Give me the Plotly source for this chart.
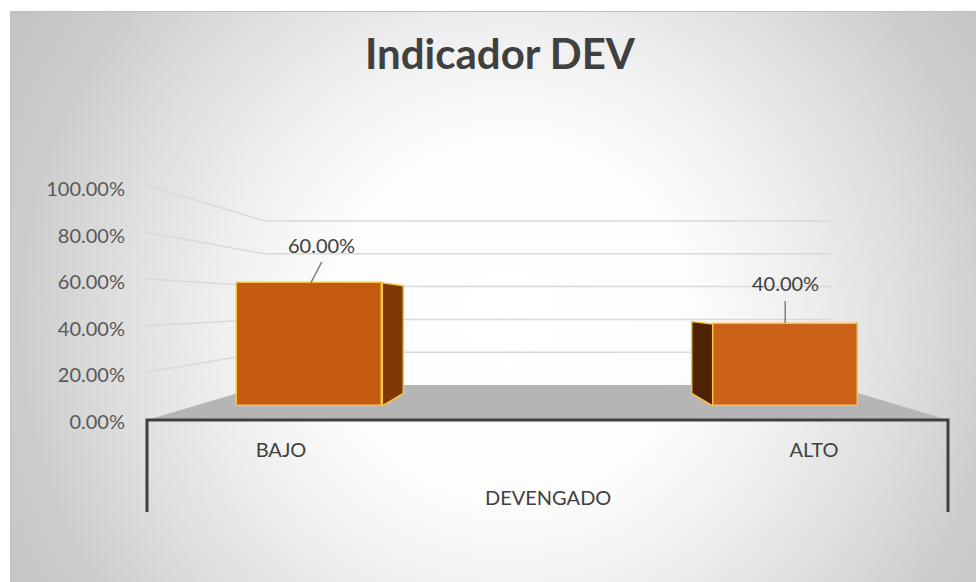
import plotly.graph_objects as go

# ---------------- data ----------------
categories = ["BAJO", "ALTO"]
values = [60.0, 40.0]                      # percent
label_texts = ["60.00%", "40.00%"]
tick_values = [0, 20, 40, 60, 80, 100]
tick_labels = ["0.00%", "20.00%", "40.00%", "60.00%", "80.00%", "100.00%"]
axis_title = "DEVENGADO"
chart_title = "Indicador DEV"

front_colors = ["#c55a11", "#cc6119"]
side_colors = ["#7f3808", "#4f2205"]
edge_color = "#f6c445"

# ---------------- geometry (pixels) ----------------
W, H = 976, 582
CHART_L, CHART_T = 10, 11
# bar subplot scale (front plane of the bars)
BAR_X0_PX, BAR_UNIT_PX = 309.8, 475.4
BAR_Y0_PX, BAR_Y_PX = 406.0, 2.053
BAR_W = 145 / BAR_UNIT_PX
SIDE_DX = 21 / BAR_UNIT_PX
BACK_BASE, BACK_SCALE = 6.1, 0.875
# category axis (front edge of floor)
CAT_X0_PX, CAT_UNIT_PX = 281.0, 533.0
FRAME_L, FRAME_R, FRAME_Y, FRAME_B = 147, 948, 420, 512
# value tick labels
TICK_Y0_PX, TICK_PX = 422.0, 2.33
# walls
WALL_L, WALL_R, WALL_Y0, WALL_PX = 265, 831, 385.0, 1.64
SIDE_X, SIDE_Y0, SIDE_PX = 145, 419.5, 2.345
# background gradient (circle centre, half size)
GC_X, GC_Y, GR = 510, 320, 600

FONT = "Lato"
TXT = "#404040"

fig = go.Figure()

# ---- background (pixel space subplot x/y) ----
fig.add_trace(go.Scatter(
    x=[GC_X - GR, GC_X + GR, GC_X + GR, GC_X - GR, GC_X - GR],
    y=[GC_Y - GR, GC_Y - GR, GC_Y + GR, GC_Y + GR, GC_Y - GR],
    mode="lines", fill="toself",
    line=dict(color="rgba(0,0,0,0)", width=0),
    fillgradient=dict(type="radial",
                      colorscale=[[0, "#ffffff"], [0.3, "#fdfdfd"], [0.483, "#efefef"],
                                  [0.667, "#dddddd"], [0.817, "#cdcdcd"],
                                  [0.95, "#c4c4c4"], [1, "#c2c2c2"]]),
    hoverinfo="skip", showlegend=False, xaxis="x", yaxis="y"))

# chart border (top / left visible)
fig.add_trace(go.Scatter(
    x=[CHART_L, CHART_L, W + 20], y=[H + 20, CHART_T, CHART_T],
    mode="lines", line=dict(color="#bfbfbf", width=2),
    hoverinfo="skip", showlegend=False, xaxis="x", yaxis="y"))

# floor
fig.add_trace(go.Scatter(
    x=[FRAME_L, WALL_L, WALL_R, FRAME_R, FRAME_L],
    y=[FRAME_Y, WALL_Y0, WALL_Y0, FRAME_Y, FRAME_Y],
    mode="lines", fill="toself", fillcolor="#b5b5b5",
    line=dict(width=0, color="#b5b5b5"),
    hoverinfo="skip", showlegend=False, xaxis="x", yaxis="y"))

# gridlines (side wall + back wall)
gx, gy = [], []
for v in tick_values[1:]:
    gx += [SIDE_X, WALL_L, WALL_R, None]
    gy += [SIDE_Y0 - SIDE_PX * v, WALL_Y0 - WALL_PX * v, WALL_Y0 - WALL_PX * v, None]
fig.add_trace(go.Scatter(
    x=gx, y=gy, mode="lines", line=dict(color="#d9d9d9", width=1.5),
    hoverinfo="skip", showlegend=False, xaxis="x", yaxis="y"))

# front frame
fig.add_trace(go.Scatter(
    x=[FRAME_L, FRAME_L, FRAME_R, FRAME_R], y=[FRAME_B, FRAME_Y, FRAME_Y, FRAME_B],
    mode="lines", line=dict(color="#404040", width=3),
    hoverinfo="skip", showlegend=False, xaxis="x", yaxis="y"))

# ---- bars (subplot x2/y2) ----
xpos = list(range(len(categories)))
mid = (len(categories) - 1) / 2
for i, v in enumerate(values):
    d = 1 if i < mid else -1
    edge = xpos[i] + d * BAR_W / 2
    back = edge + d * SIDE_DX
    fig.add_trace(go.Scatter(
        x=[edge, back, back, edge, edge],
        y=[0, BACK_BASE, BACK_BASE + BACK_SCALE * v, v, 0],
        mode="lines", fill="toself", fillcolor=side_colors[i],
        line=dict(color=edge_color, width=1.5),
        hoverinfo="skip", showlegend=False, xaxis="x2", yaxis="y2"))

fig.add_trace(go.Bar(
    x=xpos, y=values, width=BAR_W,
    marker=dict(color=front_colors, line=dict(color=edge_color, width=1.5)),
    hoverinfo="skip", showlegend=False, xaxis="x2", yaxis="y2"))

# dummy traces to activate label axes
fig.add_trace(go.Scatter(x=[0], y=[0], mode="markers", marker=dict(opacity=0),
                         hoverinfo="skip", showlegend=False, xaxis="x3", yaxis="y"))
fig.add_trace(go.Scatter(x=[CHART_L], y=[0], mode="markers", marker=dict(opacity=0),
                         hoverinfo="skip", showlegend=False, xaxis="x", yaxis="y3"))

# data labels + leader lines
label_shift = [(12, 38), (0, 41)]
leader = [(1, 0, 12, 21), (0, 1, 0, 23)]
for i, v in enumerate(values):
    fig.add_annotation(x=xpos[i], y=v, xref="x2", yref="y2", text=label_texts[i],
                       showarrow=False, xshift=label_shift[i][0], yshift=label_shift[i][1],
                       font=dict(family=FONT, size=20, color=TXT))
    x0, y0, x1, y1 = leader[i]
    fig.add_shape(type="line", xref="x2", yref="y2",
                  xsizemode="pixel", ysizemode="pixel",
                  xanchor=xpos[i], yanchor=v, x0=x0, y0=y0, x1=x1, y1=y1,
                  line=dict(color="#808080", width=1.5))

# axis title
fig.add_annotation(x=0.5, y=1 - 497 / H, xref="x3 domain", yref="paper",
                   yanchor="middle", text=axis_title, showarrow=False,
                   font=dict(family=FONT, size=20, color=TXT))

hidden = dict(visible=False, showgrid=False, zeroline=False, fixedrange=True)

fig.update_layout(
    width=W, height=H,
    margin=dict(l=0, r=0, t=0, b=0, pad=0),
    paper_bgcolor="white", plot_bgcolor="rgba(0,0,0,0)",
    bargap=0,
    title=dict(text="<b>" + chart_title + "</b>", x=500 / W, xanchor="center",
               y=1 - 54 / H, yanchor="middle",
               font=dict(family=FONT, size=42, color=TXT)),
    xaxis=dict(domain=[CHART_L / W, 1], range=[CHART_L, W], anchor="y", **hidden),
    yaxis=dict(domain=[0, 1 - CHART_T / H], range=[H, CHART_T], anchor="x", **hidden),
    xaxis2=dict(domain=[0, 1], anchor="y2",
                range=[-BAR_X0_PX / BAR_UNIT_PX, (W - BAR_X0_PX) / BAR_UNIT_PX], **hidden),
    yaxis2=dict(domain=[0, 1], anchor="x2",
                range=[-(H - BAR_Y0_PX) / BAR_Y_PX, BAR_Y0_PX / BAR_Y_PX], **hidden),
    xaxis3=dict(domain=[FRAME_L / W, FRAME_R / W], anchor="free",
                position=1 - 436 / H,
                range=[(FRAME_L - CAT_X0_PX) / CAT_UNIT_PX, (FRAME_R - CAT_X0_PX) / CAT_UNIT_PX],
                tickmode="array", tickvals=xpos, ticktext=categories,
                showline=False, showgrid=False, zeroline=False, ticks="",
                tickfont=dict(family=FONT, size=20, color=TXT), fixedrange=True),
    yaxis3=dict(domain=[0, 1], anchor="free", position=125 / W, side="left",
                range=[-(H - TICK_Y0_PX) / TICK_PX, TICK_Y0_PX / TICK_PX],
                tickmode="array", tickvals=tick_values, ticktext=tick_labels,
                showline=False, showgrid=False, zeroline=False, ticks="",
                tickfont=dict(family=FONT, size=20, color="#595959"), fixedrange=True),
)

fig.write_html("out.html", config={"displayModeBar": False},
               post_script="document.body.style.margin='0';")
